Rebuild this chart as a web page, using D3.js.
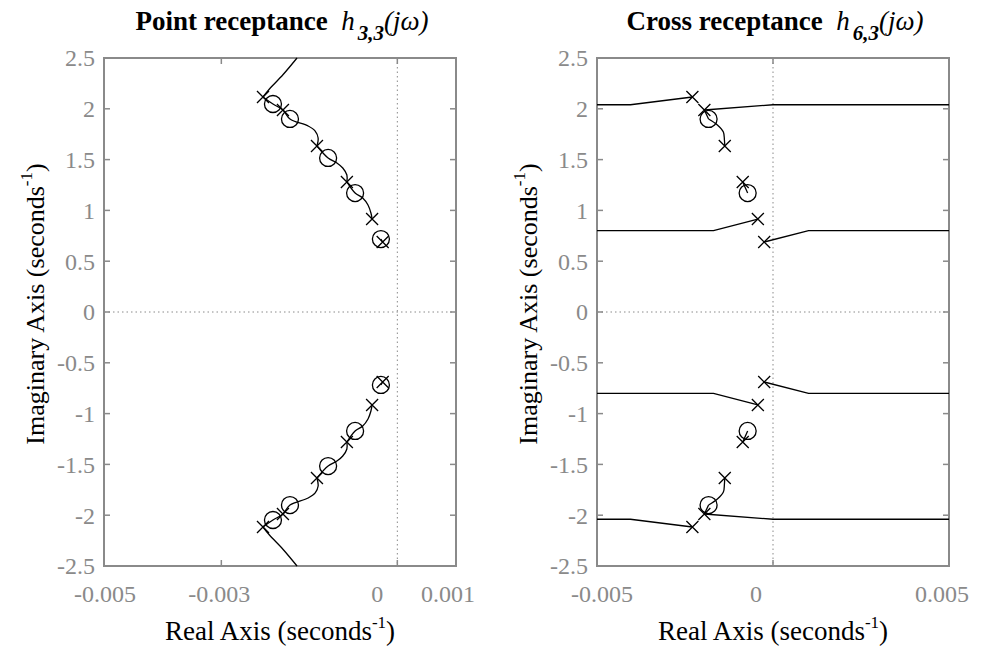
<!DOCTYPE html>
<html>
<head>
<meta charset="utf-8">
<script src="https://cdn.jsdelivr.net/npm/d3@7"></script>
<style>
  body { margin: 0; background: #fff; }
  svg { display: block; }
</style>
</head>
<body>
<div id="chart"></div>
<script>
// poles (x markers) - shared by both receptances
const poles = [
  [-0.00229, 2.116], [-0.00195, 1.988], [-0.00137, 1.634],
  [-0.00086, 1.280], [-0.00043, 0.915], [-0.00025, 0.689],
  [-0.00229, -2.116], [-0.00195, -1.988], [-0.00137, -1.634],
  [-0.00086, -1.280], [-0.00043, -0.915], [-0.00025, -0.689]
];

// zeros (o markers)
const pointZeros = [
  [-0.00212, 2.047], [-0.00183, 1.900], [-0.00118, 1.516], [-0.00072, 1.171], [-0.00028, 0.718],
  [-0.00212, -2.047], [-0.00183, -1.900], [-0.00118, -1.516], [-0.00072, -1.171], [-0.00028, -0.718]
];
const crossZeros = [
  [-0.00183, 1.900], [-0.00072, 1.171],
  [-0.00183, -1.900], [-0.00072, -1.171]
];

// locus branches, point receptance h33 (smooth)
const pointBranches = [
  [[-0.00171, 2.5], [-0.00195, 2.335], [-0.00218, 2.195], [-0.00229, 2.116]],
  [[-0.00229, 2.116], [-0.00212, 2.047], [-0.00195, 1.988], [-0.00183, 1.900], [-0.00152, 1.831],
   [-0.00140, 1.781], [-0.00135, 1.713], [-0.00137, 1.634]],
  [[-0.00137, 1.634], [-0.00118, 1.516], [-0.00103, 1.467], [-0.00093, 1.417], [-0.00086, 1.348], [-0.00086, 1.280]],
  [[-0.00086, 1.280], [-0.00072, 1.171], [-0.00059, 1.122], [-0.00050, 1.053], [-0.00045, 0.974], [-0.00043, 0.915]],
  [[-0.00028, 0.718], [-0.00025, 0.689]],
  [[-0.00171, -2.5], [-0.00195, -2.335], [-0.00218, -2.195], [-0.00229, -2.116]],
  [[-0.00229, -2.116], [-0.00212, -2.047], [-0.00195, -1.988], [-0.00183, -1.900], [-0.00152, -1.831],
   [-0.00140, -1.781], [-0.00135, -1.713], [-0.00137, -1.634]],
  [[-0.00137, -1.634], [-0.00118, -1.516], [-0.00103, -1.467], [-0.00093, -1.417], [-0.00086, -1.348], [-0.00086, -1.280]],
  [[-0.00086, -1.280], [-0.00072, -1.171], [-0.00059, -1.122], [-0.00050, -1.053], [-0.00045, -0.974], [-0.00043, -0.915]],
  [[-0.00028, -0.718], [-0.00025, -0.689]]
];

// locus branches, cross receptance h63 (straight pieces)
const crossLines = [
  [[-0.005, 2.04], [-0.00405, 2.04], [-0.00229, 2.116]],
  [[-0.00195, 1.988], [0.0, 2.04], [0.005, 2.04]],
  [[-0.00195, 1.988], [-0.00183, 1.900]],
  [[-0.00086, 1.280], [-0.00072, 1.171]],
  [[-0.005, 0.8], [-0.00169, 0.8], [-0.00043, 0.915]],
  [[-0.00025, 0.689], [0.00101, 0.8], [0.005, 0.8]],
  [[-0.005, -2.04], [-0.00405, -2.04], [-0.00229, -2.116]],
  [[-0.00195, -1.988], [0.0, -2.04], [0.005, -2.04]],
  [[-0.00195, -1.988], [-0.00183, -1.900]],
  [[-0.00086, -1.280], [-0.00072, -1.171]],
  [[-0.005, -0.8], [-0.00169, -0.8], [-0.00043, -0.915]],
  [[-0.00025, -0.689], [0.00101, -0.8], [0.005, -0.8]]
];
// cross receptance arcs (smooth)
const crossArcs = [
  [[-0.00183, 1.900], [-0.00158, 1.841], [-0.00141, 1.772], [-0.00138, 1.693], [-0.00137, 1.634]],
  [[-0.00183, -1.900], [-0.00158, -1.841], [-0.00141, -1.772], [-0.00138, -1.693], [-0.00137, -1.634]]
];

const yTicks = [-2.5, -2, -1.5, -1, -0.5, 0, 0.5, 1, 1.5, 2, 2.5];
const pointXTicks = [-0.005, -0.003, 0, 0.001];
const crossXTicks = [-0.005, 0, 0.005];

const width = 987, height = 647;
const FONT = '"Liberation Serif", "Times New Roman", serif';
const AXIS_GREY = '#8a8a8a';

const svg = d3.select('#chart').append('svg')
  .attr('width', width)
  .attr('height', height)
  .style('font-family', FONT);

function drawPanel(cfg) {
  const x = d3.scaleLinear().domain(cfg.xDomain).range([cfg.left, cfg.left + 352]);
  const y = d3.scaleLinear().domain([-2.5, 2.5]).range([566, 58]);
  const g = svg.append('g');

  // zero reference lines
  g.append('line')
    .attr('x1', x(0)).attr('x2', x(0)).attr('y1', y(2.5)).attr('y2', y(-2.5))
    .attr('stroke', AXIS_GREY).attr('stroke-width', 1).attr('stroke-dasharray', '1.5,3');
  g.append('line')
    .attr('x1', x.range()[0]).attr('x2', x.range()[1]).attr('y1', y(0)).attr('y2', y(0))
    .attr('stroke', AXIS_GREY).attr('stroke-width', 1).attr('stroke-dasharray', '1.5,3');

  // ticks, inward on all four sides
  const tl = 6;
  g.selectAll('line.yt').data(yTicks).join('line')
    .attr('x1', x.range()[0]).attr('x2', x.range()[0] + tl)
    .attr('y1', d => y(d)).attr('y2', d => y(d))
    .attr('stroke', AXIS_GREY).attr('stroke-width', 1.5);
  g.selectAll('line.yt2').data(yTicks).join('line')
    .attr('x1', x.range()[1]).attr('x2', x.range()[1] - tl)
    .attr('y1', d => y(d)).attr('y2', d => y(d))
    .attr('stroke', AXIS_GREY).attr('stroke-width', 1.5);
  g.selectAll('line.xt').data(cfg.xTicks).join('line')
    .attr('x1', d => x(d)).attr('x2', d => x(d))
    .attr('y1', y(-2.5)).attr('y2', y(-2.5) - tl)
    .attr('stroke', AXIS_GREY).attr('stroke-width', 1.5);
  g.selectAll('line.xt2').data(cfg.xTicks).join('line')
    .attr('x1', d => x(d)).attr('x2', d => x(d))
    .attr('y1', y(2.5)).attr('y2', y(2.5) + tl)
    .attr('stroke', AXIS_GREY).attr('stroke-width', 1.5);

  // box
  g.append('rect')
    .attr('x', x.range()[0]).attr('y', y(2.5))
    .attr('width', x.range()[1] - x.range()[0]).attr('height', y(-2.5) - y(2.5))
    .attr('fill', 'none').attr('stroke', AXIS_GREY).attr('stroke-width', 2);

  // tick labels
  g.selectAll('text.ylab').data(yTicks).join('text')
    .attr('x', x.range()[0] - 9).attr('y', d => y(d)).attr('dy', '0.35em')
    .attr('text-anchor', 'end')
    .attr('fill', AXIS_GREY).style('font-size', '24px')
    .text(d => d);
  g.selectAll('text.xlab').data(cfg.xTicks).join('text')
    .attr('x', (d, i) => x(d) + cfg.nudge[i]).attr('y', 602)
    .attr('text-anchor', 'middle')
    .attr('fill', AXIS_GREY).style('font-size', '24px')
    .text(d => d);

  // locus branches
  const smooth = d3.line().x(d => x(d[0])).y(d => y(d[1])).curve(d3.curveCatmullRom);
  const straight = d3.line().x(d => x(d[0])).y(d => y(d[1]));
  g.append('g').selectAll('path').data(cfg.arcs).join('path')
    .attr('d', smooth)
    .attr('fill', 'none').attr('stroke', '#000').attr('stroke-width', 1.3);
  g.append('g').selectAll('path').data(cfg.lines).join('path')
    .attr('d', straight)
    .attr('fill', 'none').attr('stroke', '#000').attr('stroke-width', 1.3);

  // zeros
  g.selectAll('circle.zero').data(cfg.zeros).join('circle')
    .attr('cx', d => x(d[0])).attr('cy', d => y(d[1])).attr('r', 8.5)
    .attr('fill', 'none').attr('stroke', '#000').attr('stroke-width', 1.3);

  // poles
  const s = 6;
  g.selectAll('path.pole').data(poles).join('path')
    .attr('d', d => {
      const px = x(d[0]), py = y(d[1]);
      return `M${px - s},${py - s}L${px + s},${py + s}M${px - s},${py + s}L${px + s},${py - s}`;
    })
    .attr('fill', 'none').attr('stroke', '#000').attr('stroke-width', 1.3);

  // title
  const cx = (x.range()[0] + x.range()[1]) / 2;
  const title = svg.append('text')
    .attr('x', cx + 2).attr('y', 30)
    .attr('text-anchor', 'middle')
    .style('font-size', '27px').style('font-weight', 'bold');
  title.append('tspan').text(cfg.title + '\u00a0\u00a0');
  title.append('tspan').style('font-style', 'italic').style('font-weight', 'normal').text('h');
  title.append('tspan').style('font-style', 'italic').style('font-size', '21px')
    .attr('dx', 3).attr('dy', 10).text(cfg.sub);
  title.append('tspan').style('font-style', 'italic').style('font-weight', 'normal')
    .attr('dy', -10).text('(j\u03c9)');

  // x axis label
  const xl = svg.append('text')
    .attr('x', cx).attr('y', 640)
    .attr('text-anchor', 'middle')
    .style('font-size', '27px');
  xl.append('tspan').text('Real Axis (seconds');
  xl.append('tspan').style('font-size', '17px').attr('dy', -12).text('-1');
  xl.append('tspan').attr('dy', 12).text(')');

  // y axis label
  const yl = svg.append('text')
    .attr('transform', `translate(${x.range()[0] - 60},304) rotate(-90)`)
    .attr('text-anchor', 'middle')
    .style('font-size', '26px');
  yl.append('tspan').text('Imaginary Axis (seconds');
  yl.append('tspan').style('font-size', '17px').attr('dy', -12).text('-1');
  yl.append('tspan').attr('dy', 12).text(')');
}

drawPanel({
  left: 104,
  xDomain: [-0.005, 0.001],
  xTicks: pointXTicks,
  nudge: [1, -2, -20, -8],
  arcs: pointBranches,
  lines: [],
  zeros: pointZeros,
  title: 'Point receptance',
  sub: '3,3'
});

drawPanel({
  left: 597,
  xDomain: [-0.005, 0.005],
  xTicks: crossXTicks,
  nudge: [5, -17, -7],
  arcs: crossArcs,
  lines: crossLines,
  zeros: crossZeros,
  title: 'Cross receptance',
  sub: '6,3'
});
</script>
</body>
</html>
